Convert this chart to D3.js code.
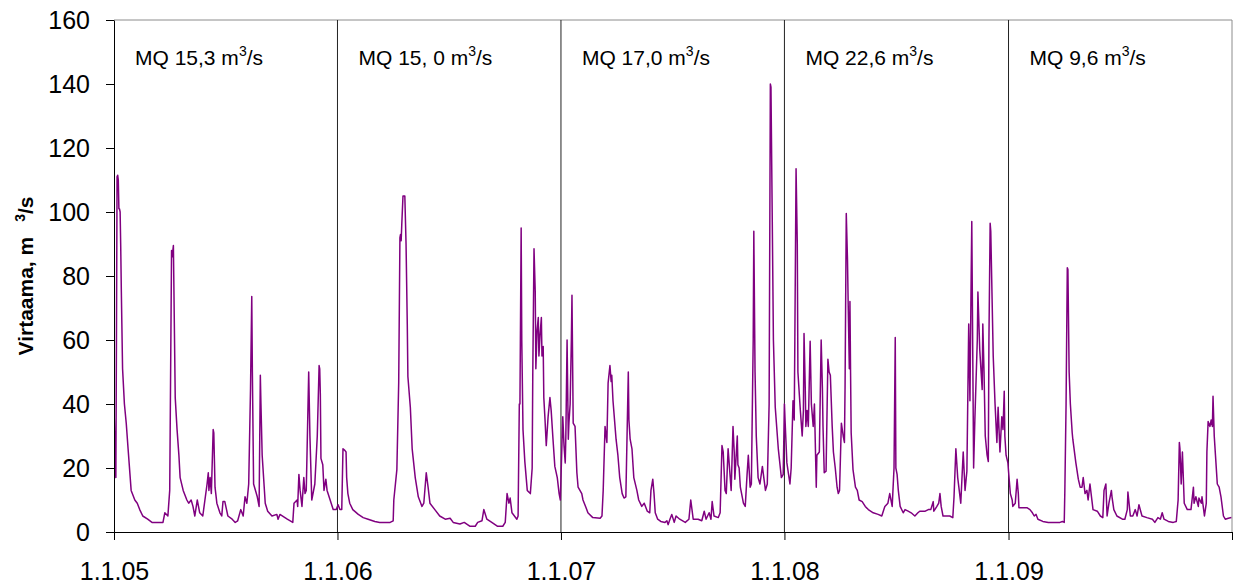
<!DOCTYPE html>
<html>
<head>
<meta charset="utf-8">
<script src="https://cdn.jsdelivr.net/npm/d3@7"></script>
<style>
  html, body { margin: 0; padding: 0; background: #fff; }
  svg { display: block; font-family: "Liberation Sans", Arial, sans-serif; }
</style>
</head>
<body>
<svg id="chart" width="1237" height="585"></svg>
<script>
// Discharge samples: day number counted from 1.1.2005, flow in m3/s
const days2005 = [0,1,2,3,4,5,6,7,8,9,10,11,12,14,17,20,23,28,34,38,42,47,55,62,80,83,88,91,94,95,97,100,103,106,108,113,119,122,126,129,132,136,140,145,152,154,155,157,159,162,163,165,168,173,176,178,181,186,193,198,202,207,211,214,217,220,223,225,226,228,234,237,239,240,242,247,251,258,266,268,271,283,292,294,299,300,302,304,307,310,312,314,318,320,323,328,332,335,336,337,338,341,343,346,348,353,358,363];
const flow2005 = [40,30,22,17,60,111,111.5,110,101,101,100,89,75,51,40,34,26,13,10,9,7,5,4,3,3,6,5,13,88,86,89.5,42,32,24,17,13,10,9,10,8,5,10,6,5,15,18.5,13,17,12,32,31,14,9,6,5,9.5,9.5,5,4,3,3.5,7,5,11,9,15,45,73.6,50,15,11,8,49,40,24,9,6.5,5,5.5,4,5.5,4,3,9,10,8,18,13,8,17,12,13,50,30,10,15,30,52,51,43,23,21,13,16.5,13,10,7,7];

const days2006 = [366,369,372,374,377,379,380,382,385,390,399,407,415,426,434,451,456,457,462,465,467,468,469,470,472,475,477,479,480,484,487,492,497,503,506,510,513,516,524,532,541,549,554,565,572,581,590,594,601,604,609,617,626,635,639,642,645,647,650,658,660,662,663,665,666,668,671,675,680,683,684,686,688,689,691,693,694,696,698,699,701,702,704,706,709,712,714,717,720,724,727,729];
const flow2006 = [8.5,7,7,26,25.5,25,17,12,9,7,5.5,4.5,4,3.3,3,3,3.5,10,19.5,46.7,92,93,91,96,105,105,90,65,48.6,39,26,17,11,8,9,18.5,14,9,7,5,4,4.3,3,2.5,3,1.8,1.8,3,3.5,7,4,3,1.8,1.8,3,12,9,10.6,6,4,5,40,40,95,60,32,22,13,12,20,50,88.5,75,51,63,67,55,62,67,55,58,42,35,27,36,42,38,29,20.5,17,12,10];

const days2007 = [732,733,735,737,738,740,742,743,745,747,748,750,753,756,758,764,766,771,774,782,794,797,799,802,805,807,810,812,813,815,820,823,826,830,833,836,840,841,843,846,849,854,857,862,866,871,875,877,880,882,884,888,893,900,903,905,908,911,915,918,924,933,939,942,946,954,960,964,967,972,975,977,980,987,990,993,995,998,1000,1003,1008,1011,1013,1014,1018,1019,1021,1023,1028,1031,1034,1036,1039,1041,1044,1045,1047,1049,1052,1055,1059,1062,1064,1067,1070,1072,1073,1075,1077,1080,1085,1090,1093];
const flow2007 = [30,36,27,21.6,30,60,29,34,40,60,74,34,33,18.5,14,12,10,7.6,6,4.5,4.3,5,13,33,28,46.5,52,47,49,41,29,24,17,12,10.6,11,50,35,29,26,17,13,10,8,9,6.5,6,13,16.5,12,6,4,3.3,3,3.5,2.3,4,5.5,3,5,4,3,4,10,4,4,3.5,6.5,4,6,4,9.5,5,4.5,6,27,25,13,12,26,13,33,25,16.5,30,21,20,14,9,8,18,24,14,15,60,94,50,30,17,15,20.5,16,13,15,40,140,139,100,60,39,26,17,18];

const days2008 = [1095,1096,1099,1104,1106,1109,1111,1112,1114,1116,1117,1121,1124,1126,1127,1129,1130,1132,1134,1137,1139,1142,1144,1147,1148,1152,1155,1157,1158,1160,1163,1166,1168,1170,1173,1175,1178,1181,1183,1185,1188,1191,1193,1194,1196,1198,1199,1201,1202,1203,1204,1207,1211,1214,1217,1222,1227,1232,1240,1248,1254,1259,1264,1267,1271,1272,1274,1276,1277,1279,1281,1284,1289,1292,1297,1302,1308,1313,1316,1325,1330,1334,1338,1339,1344,1347,1349,1351,1354,1365,1370,1372,1375,1378,1383,1387,1390,1393,1396,1398,1400,1401,1403,1404,1406,1410,1411,1414,1418,1419,1421,1423,1426,1428,1429,1431,1432,1436,1439,1442,1444,1447,1450,1452,1454,1455,1457,1460];
const flow2008 = [40,35,21.6,15,20,41,35,60,113.5,90,50,38,30,38,62,45,33,38,33,59.6,40,33,40,14,24,25,60,45,33,18.5,19,54,50,49,33,25,20,14,12,13,34,30,28,45,99.5,85,72.6,51,72,50,31,19.5,14,13,10,9.5,8,7,6,5.5,5,8,9,12,8,12,20,60.8,20,18,13,8,6,7,6.5,6,5,6,6.5,6.5,7,7,9.5,6.5,8,9,12,8,5,5,4.5,11,26,17,9,25,13,19,65,41,80,97,45,20,35,60,75,57,44.5,65,50,30,24,22,60,96.5,94,55,40,28,39,25,36,32,44,30,24,21.6];

const days2009 = [1461,1464,1467,1468,1472,1475,1477,1478,1485,1491,1496,1500,1503,1506,1509,1517,1526,1537,1545,1549,1552,1553,1555,1557,1558,1560,1562,1565,1566,1571,1575,1578,1581,1583,1586,1589,1591,1594,1599,1606,1611,1615,1617,1620,1622,1625,1629,1630,1633,1638,1647,1651,1655,1656,1660,1664,1668,1671,1674,1679,1687,1696,1700,1705,1709,1712,1715,1722,1730,1735,1738,1740,1741,1743,1745,1748,1753,1759,1763,1764,1767,1771,1772,1776,1777,1781,1784,1785,1787,1790,1792,1794,1795,1797,1799,1802,1805,1808,1812,1815,1820,1825];
const flow2009 = [19,12,10,8,9,16.5,12,7.6,7.6,7.6,7,6,5,5.5,4,3.3,3,3,3,3.3,3,13,40,82.6,82,50,40,31,29,21.6,16.5,14,14,17,12,13,10,15,7,6.5,5,4.5,13,15,5,9,13,11,7,5,4,4,7,12.5,5,5,7,5,8.5,5,4.5,4,3,4.5,4,6,4,3.3,3,3.3,10,28,26,15,25,9,7,7,14,9,11,8,10.6,9,11,5,9,25,34.5,33,35,33,42.4,30,24,15,14,11,5,4,4.3,4.5];

// Mean discharge of each year, printed at the top of each yearly panel
const mqValues = ["15,3", "15, 0", "17,0", "22,6", "9,6"];
const yTickValues = [0, 20, 40, 60, 80, 100, 120, 140, 160];
const yTitle = "Virtaama, m";

const dayMs = 864e5;
const startMs = Date.UTC(2005, 0, 1);
const endDate = new Date(Date.UTC(2010, 0, 1));

const series = [
  [days2005, flow2005], [days2006, flow2006], [days2007, flow2007],
  [days2008, flow2008], [days2009, flow2009]
].flatMap(([ds, qs]) => ds.map((d, i) => ({ date: new Date(startMs + d * dayMs), q: qs[i] })));

const svg = d3.select("#chart");
const plot = { left: 114, right: 1232, top: 20, bottom: 532 };

const x = d3.scaleUtc().domain([new Date(startMs), endDate]).range([plot.left, plot.right]);
const y = d3.scaleLinear().domain([0, 160]).range([plot.bottom, plot.top]);

svg.append("rect").attr("width", 1237).attr("height", 585).attr("fill", "#fff");

// Frame: top and right edges in grey
svg.append("path")
  .attr("d", `M${plot.left},${plot.top}H${plot.right}V${plot.bottom}`)
  .attr("fill", "none").attr("stroke", "#8c8c8c").attr("stroke-width", 1);

// Year boundaries
const yearStarts = d3.utcYear.range(new Date(startMs), endDate);
svg.append("g").selectAll("line")
  .data(yearStarts.slice(1))
  .join("line")
  .attr("x1", d => x(d)).attr("x2", d => x(d))
  .attr("y1", plot.top).attr("y2", plot.bottom)
  .attr("stroke", "#222").attr("stroke-width", 1);

// Flow line
svg.append("defs").append("clipPath").attr("id", "plotclip")
  .append("rect").attr("x", plot.left).attr("y", plot.top)
  .attr("width", plot.right - plot.left).attr("height", plot.bottom - plot.top);

const line = d3.line().x(p => x(p.date)).y(p => y(p.q));
svg.append("path")
  .datum(series)
  .attr("clip-path", "url(#plotclip)")
  .attr("d", line)
  .attr("fill", "none")
  .attr("stroke", "#800080")
  .attr("stroke-width", 1.5)
  .attr("stroke-linejoin", "round");

// Y axis
const yAxis = svg.append("g")
  .attr("transform", `translate(${plot.left},0)`)
  .call(d3.axisLeft(y).tickValues(yTickValues).tickSize(8).tickSizeOuter(0).tickPadding(16));
yAxis.select(".domain").attr("stroke", "#000");
yAxis.selectAll(".tick line").attr("stroke", "#000");
yAxis.selectAll("text").attr("font-size", 25).attr("font-family", "Liberation Sans, Arial, sans-serif").attr("fill", "#000");

// X axis: one tick per 1 January
const fmt = d3.utcFormat("%-d.%-m.%y");
const xAxis = svg.append("g")
  .attr("transform", `translate(0,${plot.bottom})`)
  .call(d3.axisBottom(x).tickValues(yearStarts.concat([endDate])).tickSize(8).tickSizeOuter(0).tickPadding(22)
    .tickFormat(d => (+d === +endDate ? "" : fmt(d))));
xAxis.select(".domain").attr("stroke", "#000");
xAxis.selectAll(".tick line").attr("stroke", "#000");
xAxis.selectAll("text").attr("font-size", 25).attr("font-family", "Liberation Sans, Arial, sans-serif").attr("fill", "#000");

// Y axis title with superscript
const yt = svg.append("text")
  .attr("transform", `translate(33,${(plot.top + plot.bottom) / 2}) rotate(-90)`)
  .attr("text-anchor", "middle")
  .attr("font-size", 21)
  .attr("font-weight", "bold")
  .attr("fill", "#000");
yt.append("tspan").text(yTitle);
yt.append("tspan").attr("dx", 15).attr("dy", -8).attr("font-size", 14).text("3");
yt.append("tspan").attr("dy", 8).text("/s");

// Yearly mean discharge labels
const mq = svg.append("g").selectAll("text")
  .data(yearStarts.map((d, i) => ({ start: d, value: mqValues[i] })))
  .join("text")
  .attr("x", d => x(d.start) + 21)
  .attr("y", 65)
  .attr("font-size", 21)
  .attr("fill", "#000");
mq.append("tspan").text(d => `MQ ${d.value} m`);
mq.append("tspan").attr("dy", -9).attr("font-size", 14).text("3");
mq.append("tspan").attr("dy", 9).text("/s");
</script>
</body>
</html>
